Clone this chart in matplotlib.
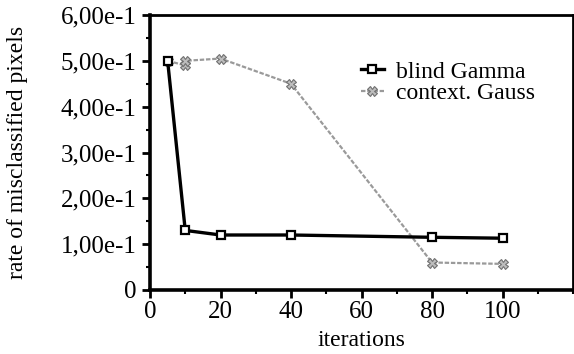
import matplotlib.pyplot as plt
from matplotlib.ticker import FuncFormatter, MultipleLocator

gamma_x = [5, 10, 20, 40, 80, 100]
gamma_y = [0.50, 0.13, 0.12, 0.12, 0.115, 0.113]
gauss_x = [5, 10, 10, 20, 40, 80, 100]
gauss_y = [0.50, 0.49, 0.50, 0.505, 0.45, 0.06, 0.057]
x_ticks = [0, 20, 40, 60, 80, 100]
y_ticks = [0, 0.1, 0.2, 0.3, 0.4, 0.5, 0.6]

plt.rcParams['font.family'] = ['Liberation Serif', 'DejaVu Serif']

fig = plt.figure(figsize=(5.74, 3.54), dpi=100)
ax = fig.add_axes([150 / 574, 1 - 290 / 354, 423 / 574, 275 / 354])

ax.plot(gauss_x, gauss_y, color='#9a9a9a', lw=1.6, ls=(0, (2, 0.8)),
        marker='X', ms=7, mfc='#bdbdbd', mec='#707070', mew=0.8,
        label='context. Gauss')
ax.plot(gamma_x, gamma_y, color='black', lw=2.4,
        marker='s', ms=6, mfc='white', mec='black', mew=1.6,
        label='blind Gamma')

ax.set_xlim(0, 120)
ax.set_ylim(0, 0.6)
ax.set_xticks(x_ticks)
ax.set_yticks(y_ticks)
ax.xaxis.set_minor_locator(MultipleLocator(10))
ax.yaxis.set_minor_locator(MultipleLocator(0.05))


def fmt(v, pos):
    if abs(v) < 1e-9:
        return '0'
    return '{:.2f}e-1'.format(v * 10).replace('.', ',')


ax.yaxis.set_major_formatter(FuncFormatter(fmt))
ax.tick_params(which='major', direction='out', length=6, width=2,
               labelsize=18, colors='black')
ax.tick_params(which='minor', direction='out', length=3, width=1.5)
ax.tick_params(axis='x', pad=2)
for side in ['left', 'bottom']:
    ax.spines[side].set_linewidth(2.6)
for side in ['top', 'right']:
    ax.spines[side].set_linewidth(2.0)

ax.set_xlabel('iterations', fontsize=17, labelpad=5)
ax.set_ylabel('rate of misclassified pixels', fontsize=17, labelpad=24)

handles, labels = ax.get_legend_handles_labels()
ax.legend(handles[::-1], labels[::-1], loc='upper left',
          bbox_to_anchor=(0.47, 0.875), frameon=False, fontsize=17,
          handlelength=1.0, handletextpad=0.5, labelspacing=0.0,
          borderpad=0)

fig.savefig('out.png', dpi=100)
